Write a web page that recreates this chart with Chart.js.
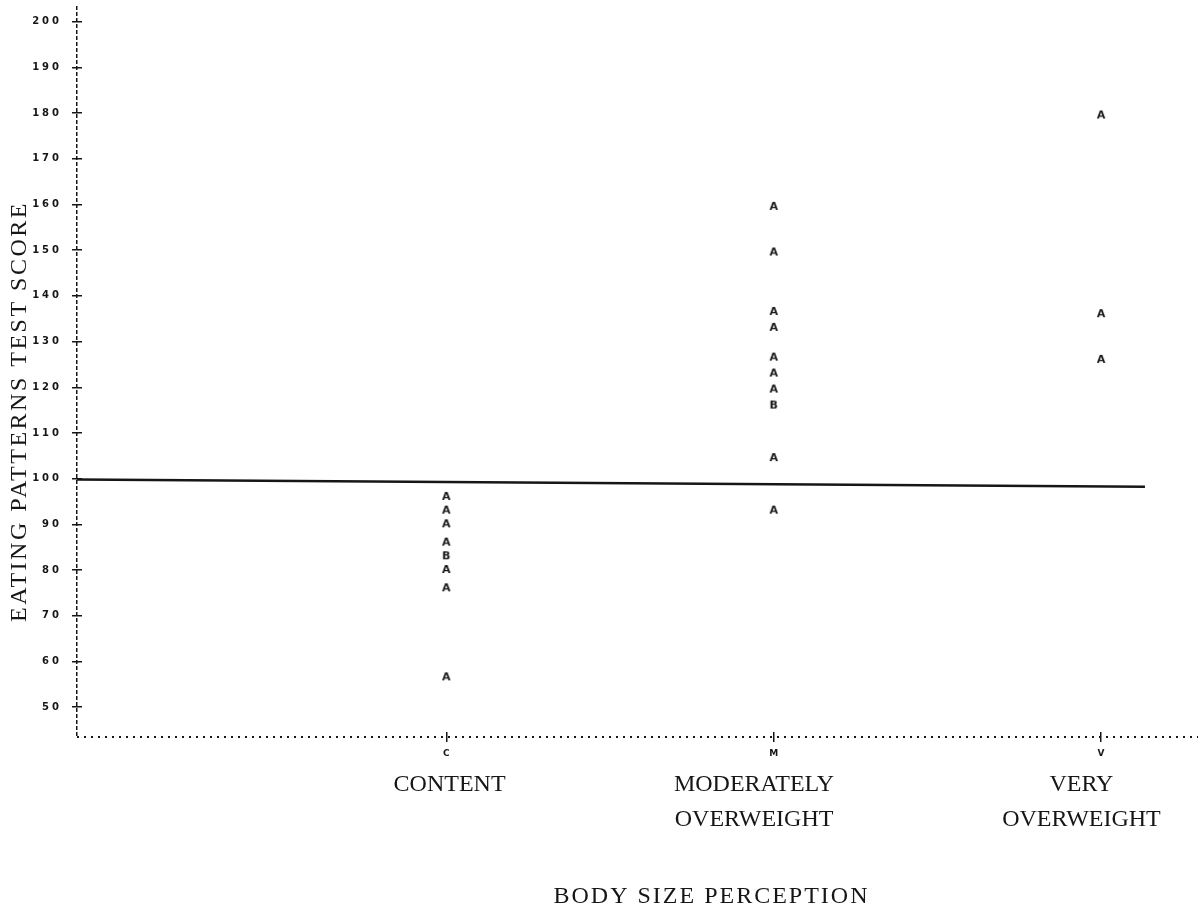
<!DOCTYPE html>
<html>
<head>
<meta charset="utf-8">
<title>Eating patterns test score by body size perception</title>
<script src="https://cdn.jsdelivr.net/npm/chart.js@4.4.1/dist/chart.umd.min.js"></script>
<style>
  html, body { margin: 0; padding: 0; background: #fff; }
  #wrap { position: relative; width: 1204px; height: 915px; }
</style>
</head>
<body>
<div id="wrap"><canvas id="chart"></canvas></div>
<script>
// x positions of the three groups (C, M, V)
var groupX     = [1, 2, 3];
var groupCodes = ['C', 'M', 'V'];
var groupNames = [['CONTENT'], ['MODERATELY', 'OVERWEIGHT'], ['VERY', 'OVERWEIGHT']];

// scores; counts are the plot symbols (A = 1 obs, B = 2 obs)
var contentScores  = [96, 93, 90, 86, 83, 80, 76, 56.5];
var contentCounts  = [1, 1, 1, 1, 2, 1, 1, 1];
var moderateScores = [159.5, 149.5, 136.5, 133, 126.5, 123, 119.5, 116, 104.5, 93];
var moderateCounts = [1, 1, 1, 1, 1, 1, 1, 2, 1, 1];
var veryScores     = [179.5, 136, 126];
var veryCounts     = [1, 1, 1];

// near-flat reference line drawn across the plot
var refLineX = [-0.128, 3.134];
var refLineY = [99.8, 98.2];

var yTicks = [50, 60, 70, 80, 90, 100, 110, 120, 130, 140, 150, 160, 170, 180, 190, 200];

var xTitle = 'BODY SIZE PERCEPTION';
var yTitle = 'EATING PATTERNS TEST SCORE';

(function () {

  var INK   = '#161616';
  var X_MIN = -0.128, X_MAX = 3.296;
  var Y_MIN = 43.44,  Y_MAX = 203.46;
  var NAME_AT = [1.01, 1.94, 2.94];   // where the long group names sit
  var SERIF = '"Liberation Serif"';

  // printer-style plot symbols: A, B, ... drawn into small canvases
  function letterMark(ch) {
    var cv = document.createElement('canvas');
    cv.width = 14; cv.height = 14;
    var c = cv.getContext('2d');
    c.font = 'bold 11px "DejaVu Sans"';
    c.fillStyle = INK;
    c.textAlign = 'center';
    c.textBaseline = 'middle';
    c.fillText(ch, 7, 7.5);
    return cv;
  }
  var marks = {};
  function markFor(n) {
    var ch = String.fromCharCode(64 + n);
    if (!marks[ch]) marks[ch] = letterMark(ch);
    return marks[ch];
  }

  function groupSet(label, gx, scores, counts) {
    return {
      label: label,
      data: scores.map(function (s) { return { x: gx, y: s }; }),
      pointStyle: counts.map(markFor),
      pointRadius: 5,
      showLine: false
    };
  }

  // spaced-out dot-matrix look for the y tick numbers
  var spacedTicks = {
    id: 'spacedTicks',
    beforeDraw: function (chart) {
      var s = chart.scales.y;
      if (s.$spaced) return;
      var draw = s.drawLabels;
      s.drawLabels = function (area) {
        this.ctx.save();
        this.ctx.letterSpacing = '3px';
        draw.call(this, area);
        this.ctx.restore();
      };
      s.$spaced = true;
    }
  };

  // axis captions, anchored to scale values
  var axisCaptions = {
    id: 'axisCaptions',
    afterDraw: function (chart) {
      var c = chart.ctx, x = chart.scales.x, y = chart.scales.y;
      c.save();
      c.fillStyle = INK;
      c.textAlign = 'center';
      c.textBaseline = 'middle';
      c.font = '24px ' + SERIF;
      c.letterSpacing = '2px';
      c.fillText(xTitle, x.getPixelForValue(1.81), chart.height - 18);
      c.letterSpacing = '2.5px';
      c.translate(20, y.getPixelForValue(114.7));
      c.rotate(-Math.PI / 2);
      c.fillText(yTitle, 0, 0);
      c.restore();
    }
  };

  new Chart(document.getElementById('chart'), {
    type: 'scatter',
    plugins: [spacedTicks, axisCaptions],
    data: {
      datasets: [
        {
          type: 'line',
          label: 'Reference',
          data: refLineX.map(function (x, i) { return { x: x, y: refLineY[i] }; }),
          borderColor: INK,
          borderWidth: 2.5,
          pointRadius: 0,
          showLine: true,
          fill: false
        },
        groupSet('Content', groupX[0], contentScores, contentCounts),
        groupSet('Moderately overweight', groupX[1], moderateScores, moderateCounts),
        groupSet('Very overweight', groupX[2], veryScores, veryCounts)
      ]
    },
    options: {
      responsive: true,
      maintainAspectRatio: false,
      animation: false,
      events: [],
      layout: { padding: { top: 0, right: 4, bottom: 0, left: 0 } },
      plugins: { legend: { display: false }, tooltip: { enabled: false } },
      scales: {
        x: {
          type: 'linear', position: 'bottom', weight: 0,
          min: X_MIN, max: X_MAX,
          afterBuildTicks: function (s) {
            s.ticks = [{ value: X_MIN }].concat(groupX.map(function (v) { return { value: v }; }));
          },
          afterFit: function (s) { s.height = 30; s.paddingLeft = 0; s.paddingRight = 0; },
          // grid line at X_MIN is the dashed y axis; others only show their last 5px (the "+")
          border: {
            display: false,
            dash: function (c) {
              if (c.index === 0) return [4, 2];
              var a = c.chart.chartArea;
              var h = a ? a.bottom - a.top : 0;
              return [0, Math.max(h - 5, 0), 5, 0];
            }
          },
          grid: {
            color: INK, lineWidth: 1.5, tickLength: 5, tickWidth: 1.5,
            tickColor: function (c) { return c.index === 0 ? 'transparent' : INK; }
          },
          ticks: {
            autoSkip: false, maxRotation: 0, padding: 6, color: INK,
            font: { family: '"DejaVu Sans"', size: 9, weight: 'bold' },
            callback: function (v, i) { return i === 0 ? '' : groupCodes[i - 1]; }
          }
        },
        names: {
          type: 'linear', position: 'bottom', weight: 1,
          min: X_MIN, max: X_MAX,
          afterBuildTicks: function (s) {
            s.ticks = NAME_AT.map(function (v) { return { value: v }; });
          },
          afterFit: function (s) { s.height = 148; s.paddingLeft = 0; s.paddingRight = 0; },
          border: { display: false },
          grid: { display: false, drawTicks: false },
          ticks: {
            autoSkip: false, maxRotation: 0, padding: 0, color: INK,
            font: { family: SERIF, size: 24, lineHeight: 1.46 },
            callback: function (v, i) { return groupNames[i]; }
          }
        },
        y: {
          type: 'linear', position: 'left',
          min: Y_MIN, max: Y_MAX,
          afterBuildTicks: function (s) {
            s.ticks = [{ value: Y_MIN }].concat(yTicks.map(function (v) { return { value: v }; }));
          },
          afterFit: function (s) { s.width = 77; s.paddingTop = 0; s.paddingBottom = 0; },
          // grid line at Y_MIN is the dotted x axis; others only show their first 5px
          border: {
            display: false,
            dash: function (c) { return c.index === 0 ? [2, 5] : [5, 4000]; }
          },
          grid: {
            color: INK, tickLength: 5, tickWidth: 1.5,
            lineWidth: function (c) { return c.index === 0 ? 2 : 1.5; },
            tickColor: function (c) { return c.index === 0 ? 'transparent' : INK; }
          },
          ticks: {
            autoSkip: false, padding: 10, color: INK,
            font: { family: '"DejaVu Sans"', size: 10, weight: 'bold' },
            callback: function (v, i) { return i === 0 ? '' : String(v); }
          }
        }
      }
    }
  });

})();
</script>
</body>
</html>
